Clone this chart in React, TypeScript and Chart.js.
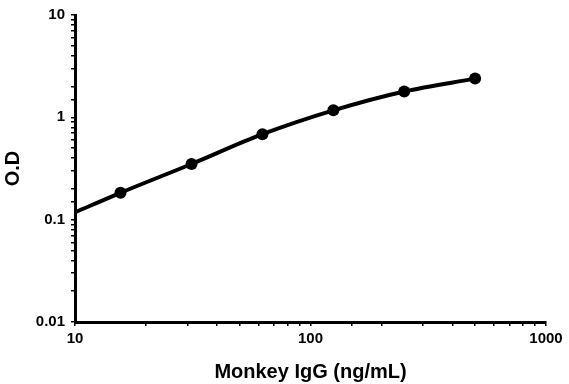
import React, { useEffect, useRef } from "react";
import { Chart, registerables } from "chart.js";

Chart.register(...registerables);

const concentrations = [10, 15.6, 31.25, 62.5, 125, 250, 500];
const odValues = [0.118, 0.183, 0.35, 0.684, 1.17, 1.79, 2.39];
const xTickLabels = [10, 100, 1000];
const yTickLabels = [0.01, 0.1, 1, 10];

const FONT = "'Liberation Sans', Arial, sans-serif";

export default function App() {
  const ref = useRef<HTMLCanvasElement | null>(null);

  useEffect(() => {
    document.body.style.margin = "0";
    const ctx = ref.current!;
    const data = concentrations.map((x, i) => ({ x, y: odValues[i] }));
    const chart = new Chart(ctx, {
      type: "line",
      data: {
        datasets: [
          {
            data,
            borderColor: "#000",
            backgroundColor: "#000",
            borderWidth: 4,
            tension: 0.4,
            cubicInterpolationMode: "monotone",
            pointRadius: (c: any) => (c.dataIndex === 0 ? 0 : 6),
            pointBorderWidth: 0,
            pointBackgroundColor: "#000",
          },
        ],
      },
      options: {
        animation: false,
        responsive: false,
        maintainAspectRatio: false,
        layout: { padding: { top: 14, right: 23, left: 0, bottom: 0 } },
        plugins: { legend: { display: false }, tooltip: { enabled: false } },
        scales: {
          x: {
            type: "logarithmic",
            min: 10,
            max: 1000,
            afterFit: (s: any) => {
              s.height = 384 - 322;
            },
            border: { display: true, color: "#000", width: 3 },
            grid: { drawOnChartArea: false, drawTicks: true, tickLength: 4, color: "#000", lineWidth: 1.5 },
            ticks: {
              autoSkip: false,
              maxRotation: 0,
              color: "#000",
              padding: 4,
              font: { family: FONT, size: 15, weight: "bold" },
              callback: (v: any) => (xTickLabels.includes(Number(v)) ? String(v) : ""),
            },
            title: {
              display: true,
              text: "Monkey IgG (ng/mL)",
              color: "#000",
              font: { family: FONT, size: 20, weight: "bold" },
              padding: { top: 4, bottom: 0 },
            },
          },
          y: {
            type: "logarithmic",
            min: 0.01,
            max: 10,
            afterFit: (s: any) => {
              s.width = 75;
            },
            border: { display: true, color: "#000", width: 3 },
            grid: { drawOnChartArea: false, drawTicks: true, tickLength: 4, color: "#000", lineWidth: 1.5 },
            ticks: {
              autoSkip: false,
              color: "#000",
              padding: 6,
              font: { family: FONT, size: 15, weight: "bold" },
              callback: (v: any) => {
                const n = Number(v);
                const m = yTickLabels.find((t) => Math.abs(t - n) < t * 1e-6);
                return m !== undefined ? String(m) : "";
              },
            },
            title: {
              display: true,
              text: "O.D",
              color: "#000",
              font: { family: FONT, size: 20, weight: "bold" },
              padding: { top: 1, bottom: 0 },
            },
          },
        },
      },
    } as any);
    return () => chart.destroy();
  }, []);

  return (
    <div style={{ width: 569, height: 384, background: "#fff" }}>
      <canvas ref={ref} width={569} height={384} style={{ display: "block" }} />
    </div>
  );
}
